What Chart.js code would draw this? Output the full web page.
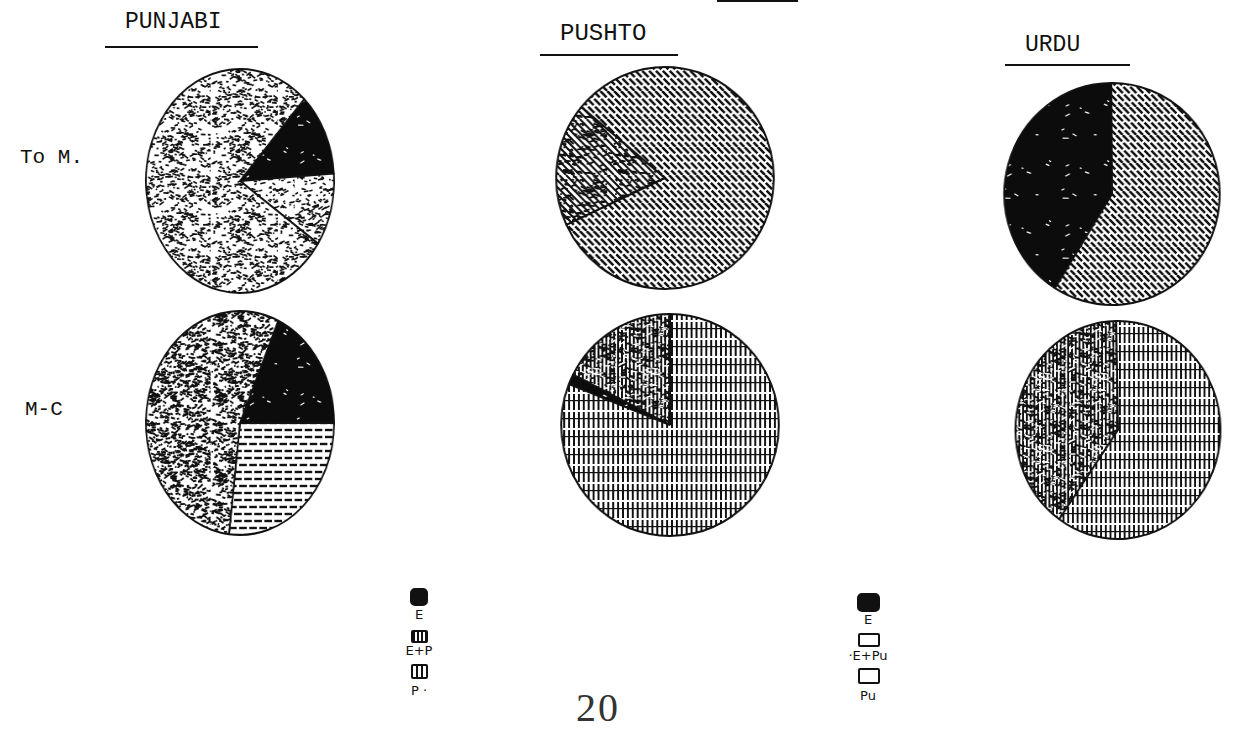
<!DOCTYPE html>
<html>
<head>
<meta charset="utf-8">
<script src="https://cdn.jsdelivr.net/npm/chart.js@4/dist/chart.umd.min.js"></script>
<style>
  body { margin: 0; background: #fff; }
  #page { position: relative; width: 1241px; height: 737px; overflow: hidden; background: #fff; }
  .t { position: absolute; font-family: "Liberation Mono", "DejaVu Sans Mono", monospace; color: #111; white-space: nowrap; }
  .rule { position: absolute; height: 2px; background: #111; }
  .pie { position: absolute; width: 230px; height: 230px; }
  .lg { position: absolute; font-family: "DejaVu Sans", sans-serif; font-size: 13px; color: #111; text-align: center; width: 50px; }
  .sw { position: absolute; box-sizing: border-box; border: 2px solid #111; border-radius: 2px; background: #fff; }
</style>
</head>
<body>
<div id="page">
  <div class="rule" style="left:717px;top:0;width:81px;height:2px"></div>

  <div class="t" style="left:125px;top:9px;font-size:23px">PUNJABI</div>
  <div class="rule" style="left:105px;top:46px;width:153px"></div>
  <div class="t" style="left:560px;top:20px;font-size:24px">PUSHTO</div>
  <div class="rule" style="left:540px;top:54px;width:138px"></div>
  <div class="t" style="left:1025px;top:32px;font-size:23px">URDU</div>
  <div class="rule" style="left:1005px;top:64px;width:125px"></div>

  <div class="t" style="left:20px;top:146px;font-size:21px">To M.</div>
  <div class="t" style="left:25px;top:398px;font-size:21px">M-C</div>

  <div class="pie" id="p0"><canvas id="c0" width="230" height="230"></canvas></div>
  <div class="pie" id="p1"><canvas id="c1" width="230" height="230"></canvas></div>
  <div class="pie" id="p2"><canvas id="c2" width="230" height="230"></canvas></div>
  <div class="pie" id="p3"><canvas id="c3" width="230" height="230"></canvas></div>
  <div class="pie" id="p4"><canvas id="c4" width="230" height="230"></canvas></div>
  <div class="pie" id="p5"><canvas id="c5" width="230" height="230"></canvas></div>

  <!-- legend for Punjabi -->
  <div class="sw" style="left:410px;top:588px;width:18px;height:18px;background:#111;border-radius:5px"></div>
  <div class="lg" style="left:394px;top:607px">E</div>
  <div class="sw" style="left:411px;top:630px;width:17px;height:13px;background:repeating-linear-gradient(90deg,#111 0 2px,#fff 2px 4px)"></div>
  <div class="lg" style="left:394px;top:643px">E+P</div>
  <div class="sw" style="left:411px;top:664px;width:17px;height:15px;background:repeating-linear-gradient(90deg,#fff 0 3px,#111 3px 5px)"></div>
  <div class="lg" style="left:394px;top:683px">P ·</div>

  <!-- legend for Pushto -->
  <div class="sw" style="left:857px;top:593px;width:23px;height:19px;background:#111;border-radius:5px"></div>
  <div class="lg" style="left:843px;top:612px">E</div>
  <div class="sw" style="left:858px;top:633px;width:22px;height:14px"></div>
  <div class="lg" style="left:843px;top:648px">·E+Pu</div>
  <div class="sw" style="left:858px;top:668px;width:22px;height:16px"></div>
  <div class="lg" style="left:843px;top:688px">Pu</div>

  <div class="t" style="left:576px;top:684px;font-family:'Liberation Serif',serif;font-size:40px;color:#333;letter-spacing:2px">20</div>
</div>

<script>
// column and row headings
const languages = ['PUNJABI', 'PUSHTO', 'URDU'];
const rowNames = ['To M.', 'M-C'];

// slice categories per language
const punjabiLabels = ['E', 'E+P', 'P'];
const pushtoLabels = ['E', 'E+Pu', 'Pu'];
const urduLabels = ['E', 'E+U', 'U'];

// percentages (E, E+X, X)
const punjabiToM = [12, 10.5, 77.5];
const punjabiMC = [18.3, 26.9, 54.8];
const pushtoToM = [0, 18, 82];
const pushtoMC = [1.5, 17.5, 81];
const urduToM = [41, 0, 59];
const urduMC = [0, 40, 60];

// deterministic speckle generator for the textures
function lcg(seed) {
    let s = seed;
    return () => (s = (s * 1664525 + 1013904223) % 4294967296) / 4294967296;
}

function tile(w, h, draw) {
    const c = document.createElement('canvas');
    c.width = w; c.height = h;
    const g = c.getContext('2d');
    g.fillStyle = '#fff';
    g.fillRect(0, 0, w, h);
    draw(g, w, h);
    return g.createPattern(c, 'repeat');
}

function speckle(g, w, h, count, seed, lw, color) {
    const r = lcg(seed);
    g.strokeStyle = color || '#111';
    g.lineWidth = lw;
    for (let i = 0; i < count; i++) {
        const x = r() * w, y = r() * h;
        const len = 1.5 + r() * 5;
        const a = (r() - 0.5) * 1.2;
        g.beginPath();
        g.moveTo(x, y);
        g.lineTo(x + Math.cos(a) * len, y + Math.sin(a) * len);
        g.stroke();
    }
}

const pat = {
    black: tile(60, 60, (g, w, h) => {
        g.fillStyle = '#0c0c0c';
        g.fillRect(0, 0, w, h);
        speckle(g, w, h, 10, 7, 1.2, '#fff');
    }),
    stipple: tile(80, 80, (g, w, h) => speckle(g, w, h, 330, 11, 1.7)),
    stippleDark: tile(80, 80, (g, w, h) => speckle(g, w, h, 520, 23, 1.9)),
    dashLight: tile(60, 60, (g, w, h) => speckle(g, w, h, 170, 5, 1.6)),
    dashH: tile(24, 21, (g, w, h) => {
        g.strokeStyle = '#111';
        g.lineWidth = 2.4;
        for (let y = 3; y < h; y += 7) {
            const off = (y % 14 === 3) ? 0 : 6;
            for (let x = -12 + off; x < w; x += 12) {
                g.beginPath(); g.moveTo(x, y); g.lineTo(x + 9, y); g.stroke();
            }
        }
    }),
    diag: tile(28, 28, (g, w, h) => {
        g.strokeStyle = '#111';
        g.lineWidth = 2.5;
        g.setLineDash([9, 2]);
        for (let k = -h; k < w + h; k += 7) {
            g.beginPath(); g.moveTo(k, 0); g.lineTo(k + h, h); g.stroke();
        }
    }),
    diagDark: tile(56, 56, (g, w, h) => {
        g.strokeStyle = '#111';
        g.lineWidth = 2;
        for (let k = -h; k < w + h; k += 7) {
            g.beginPath(); g.moveTo(k, 0); g.lineTo(k + h, h); g.stroke();
        }
        speckle(g, w, h, 140, 31, 1.8);
    }),
    grid: tile(20, 36, (g, w, h) => {
        g.fillStyle = '#111';
        for (let x = 1; x < w; x += 5) g.fillRect(x, 0, 2, h);
        g.fillStyle = '#fff';
        for (let y = 10; y < h; y += 18) g.fillRect(0, y, w, 2);
        g.fillStyle = '#111';
        for (let y = 0; y < h; y += 18) g.fillRect(0, y, w, 1.2);
    }),
    gridDark: tile(60, 72, (g, w, h) => {
        g.fillStyle = '#111';
        for (let x = 1; x < w; x += 4) g.fillRect(x, 0, 2, h);
        speckle(g, w, h, 260, 41, 1.8);
        speckle(g, w, h, 90, 43, 1.4, '#fff');
    })
};

// placement of each pie: centre, radius, horizontal squash and start angle
const pies = [
    { id: 0, labels: punjabiLabels, data: punjabiToM, cx: 240, cy: 181, r: 112, sx: 0.84, rot: 43,
      fill: [pat.black, pat.dashLight, pat.stipple] },
    { id: 1, labels: pushtoLabels, data: pushtoToM, cx: 665, cy: 178, r: 111, sx: 0.98, rot: 245,
      fill: [pat.black, pat.diagDark, pat.diag] },
    { id: 2, labels: urduLabels, data: urduToM, cx: 1112, cy: 194, r: 111, sx: 0.97, rot: 212,
      fill: [pat.black, pat.diagDark, pat.diag] },
    { id: 3, labels: punjabiLabels, data: punjabiMC, cx: 240, cy: 423, r: 112, sx: 0.84, rot: 24,
      fill: [pat.black, pat.dashH, pat.stippleDark] },
    { id: 4, labels: pushtoLabels, data: pushtoMC, cx: 670, cy: 425, r: 111, sx: 0.98, rot: 291.6,
      fill: [pat.black, pat.gridDark, pat.grid] },
    { id: 5, labels: urduLabels, data: urduMC, cx: 1118, cy: 430, r: 109, sx: 0.94, rot: 215,
      fill: [pat.black, pat.gridDark, pat.grid] }
];

pies.forEach(p => {
    const box = document.getElementById('p' + p.id);
    box.style.left = (p.cx - 115) + 'px';
    box.style.top = (p.cy - 115) + 'px';
    box.style.transform = 'scaleX(' + p.sx + ')';

    new Chart(document.getElementById('c' + p.id), {
        type: 'pie',
        data: {
            labels: p.labels,
            datasets: [{
                data: p.data,
                backgroundColor: p.fill,
                borderColor: '#111',
                borderWidth: 2
            }]
        },
        options: {
            responsive: false,
            animation: false,
            rotation: p.rot,
            radius: p.r,
            plugins: { legend: { display: false }, tooltip: { enabled: false } }
        }
    });
});
</script>
</body>
</html>
